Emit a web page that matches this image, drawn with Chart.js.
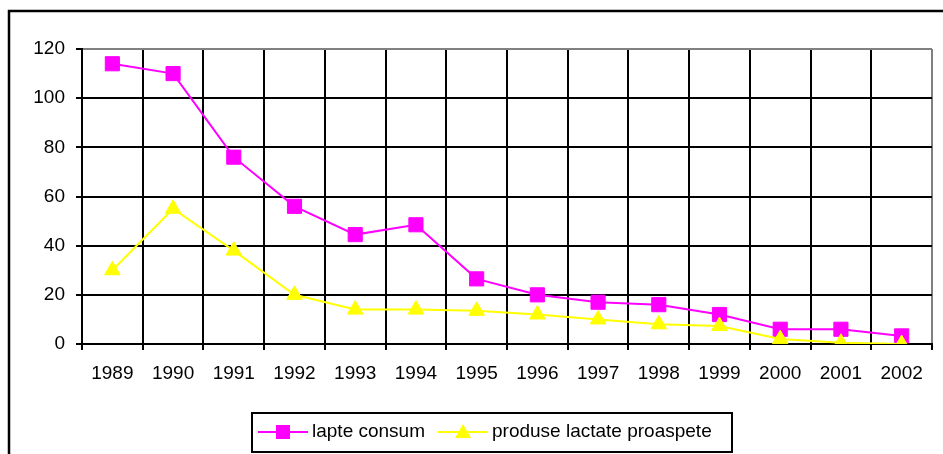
<!DOCTYPE html>
<html>
<head>
<meta charset="utf-8">
<script src="https://cdn.jsdelivr.net/npm/chart.js@4/dist/chart.umd.min.js"></script>
<style>
  body { margin: 0; background: #fff; }
  canvas { display: block; }
</style>
</head>
<body>
<canvas id="chart" width="943" height="454"></canvas>
<script>
const years = ['1989', '1990', '1991', '1992', '1993', '1994', '1995', '1996', '1997', '1998', '1999', '2000', '2001', '2002'];
const lapteConsum = [114, 110, 76, 56, 44.5, 48.5, 26.5, 20, 17, 16, 12, 6, 6, 3.3];
const produseLactate = [30, 55, 38, 20, 14, 14, 13.5, 12, 10, 8, 7.3, 2, 0.5, 0];
const yTicks = { min: 0, max: 120, step: 20 };

const FONT = "'Liberation Sans', Arial, sans-serif";
const MAGENTA = '#ff00ff';
const YELLOW = '#ffff00';

// outer frame + legend box drawn on the canvas
const framePlugin = {
  id: 'frame',
  beforeDraw(chart) {
    const ctx = chart.ctx;
    ctx.save();
    ctx.fillStyle = '#fff';
    ctx.fillRect(0, 0, chart.width, chart.height);
    ctx.strokeStyle = '#000';
    ctx.lineWidth = 2.5;
    ctx.strokeRect(9, 11, chart.width, chart.height);
    ctx.restore();
  },
  afterDraw(chart) {
    const ctx = chart.ctx;
    ctx.save();
    ctx.strokeStyle = '#000';
    ctx.lineWidth = 2;
    ctx.strokeRect(252, 413, 480, 39);

    const cy = 432;
    const items = [
      { x: 258, ds: chart.data.datasets[0] },
      { x: 438, ds: chart.data.datasets[1] }
    ];
    items.forEach(it => {
      const ds = it.ds;
      ctx.strokeStyle = ds.borderColor;
      ctx.lineWidth = 2;
      ctx.beginPath();
      ctx.moveTo(it.x, cy);
      ctx.lineTo(it.x + 50, cy);
      ctx.stroke();
      const mx = it.x + 25;
      ctx.fillStyle = ds.pointBackgroundColor;
      if (ds.pointStyle === 'rect') {
        ctx.fillRect(mx - 7, cy - 7, 14, 14);
      } else {
        ctx.beginPath();
        ctx.moveTo(mx, cy - 8);
        ctx.lineTo(mx + 8, cy + 6);
        ctx.lineTo(mx - 8, cy + 6);
        ctx.closePath();
        ctx.fill();
      }
      ctx.fillStyle = '#000';
      ctx.font = '19px ' + FONT;
      ctx.textBaseline = 'middle';
      ctx.textAlign = 'left';
      ctx.fillText(ds.label, it.x + 54, cy);
    });
    ctx.restore();
  }
};

new Chart(document.getElementById('chart').getContext('2d'), {
  type: 'line',
  data: {
    labels: years,
    datasets: [
      {
        label: 'lapte consum',
        data: lapteConsum,
        order: 2,
        borderColor: MAGENTA,
        backgroundColor: MAGENTA,
        pointBackgroundColor: MAGENTA,
        pointBorderColor: MAGENTA,
        pointStyle: 'rect',
        pointRadius: 10,
        pointBorderWidth: 1,
        borderWidth: 2,
        tension: 0
      },
      {
        label: 'produse lactate proaspete',
        data: produseLactate,
        order: 1,
        borderColor: YELLOW,
        backgroundColor: YELLOW,
        pointBackgroundColor: YELLOW,
        pointBorderColor: YELLOW,
        pointStyle: 'triangle',
        pointRadius: 9,
        pointBorderWidth: 1,
        borderWidth: 2,
        tension: 0
      }
    ]
  },
  options: {
    responsive: false,
    animation: false,
    layout: { padding: { left: 0, top: 49, right: 7, bottom: 0 } },
    plugins: {
      legend: { display: false },
      tooltip: { enabled: false }
    },
    scales: {
      x: {
        offset: true,
        afterFit: s => { s.height = 110; },
        grid: {
          offset: true,
          lineWidth: 2,
          color: c => (c.index === undefined ? '#808080' : '#000'),
          tickColor: '#000',
          tickLength: 6
        },
        border: { color: '#000', width: 2 },
        ticks: {
          color: '#000',
          font: { family: FONT, size: 19 },
          padding: 12,
          maxRotation: 0,
          autoSkip: false
        }
      },
      y: {
        min: yTicks.min,
        max: yTicks.max,
        afterFit: s => { s.width = 82; },
        grid: {
          lineWidth: 2,
          color: c => (c.tick && c.tick.value === yTicks.max ? '#808080' : '#000'),
          tickColor: '#000',
          tickLength: 6
        },
        border: { color: '#000', width: 2 },
        ticks: {
          stepSize: yTicks.step,
          color: '#000',
          font: { family: FONT, size: 19 },
          padding: 11
        }
      }
    }
  },
  plugins: [framePlugin]
});
</script>
</body>
</html>
